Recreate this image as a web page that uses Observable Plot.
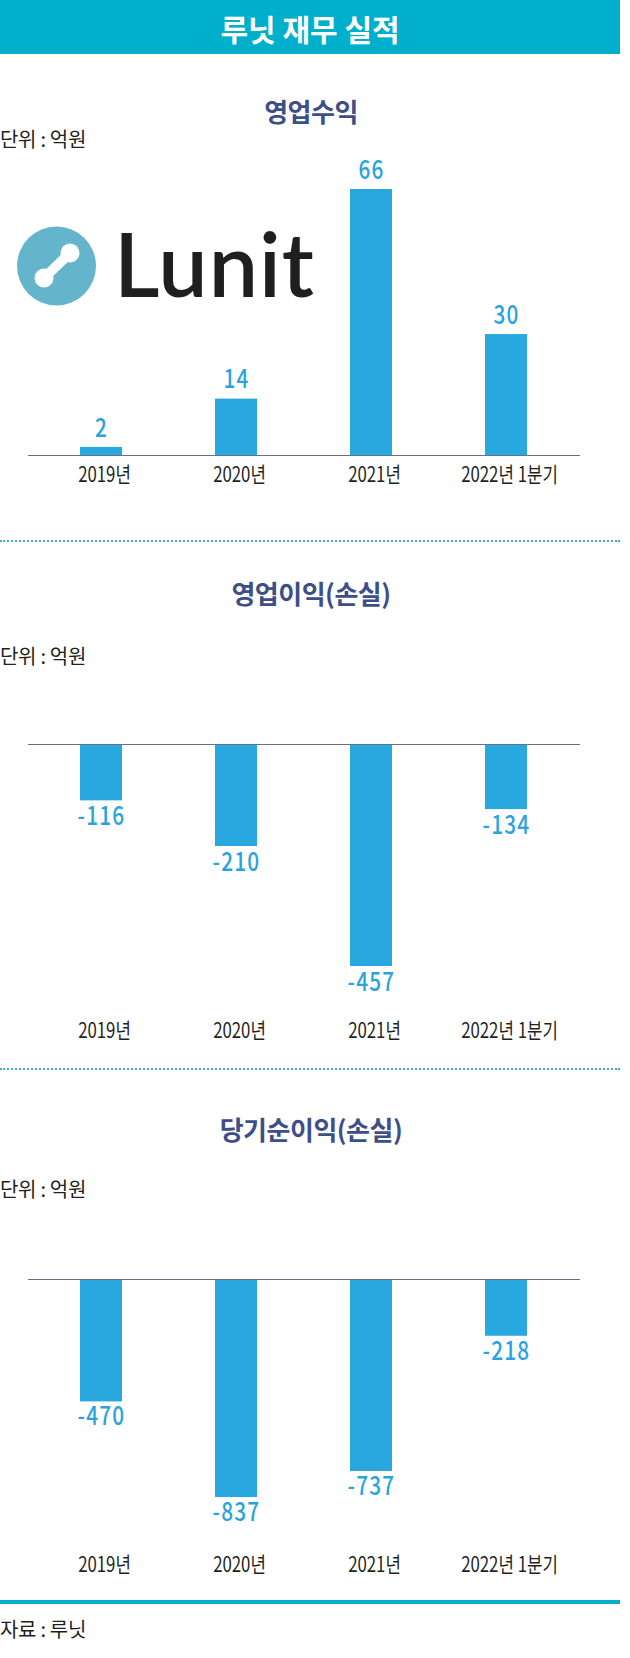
<!DOCTYPE html>
<html>
<head>
<meta charset="utf-8">
<script src="https://cdn.jsdelivr.net/npm/d3@7"></script>
<script src="https://cdn.jsdelivr.net/npm/@observablehq/plot@0.6"></script>
<style>
  html, body { margin: 0; padding: 0; background: #ffffff; }
  body { width: 630px; height: 1658px; position: relative; overflow: hidden;
         font-family: "Noto Sans CJK KR", "Noto Sans", sans-serif; }
  .abs { position: absolute; white-space: pre; }
  .center { transform: translate(-50%, -50%); }
  .header { left: 0; top: 0; width: 620px; height: 54px; background: #00afcb; }
  .title { color: #ffffff; font-weight: 700; font-size: 30px; letter-spacing: 0px; }
  .heading { color: #3e4e87; font-weight: 700; font-size: 26px; letter-spacing: -0.5px; }
  .unit { left: 0; color: #231f20; font-size: 20px; letter-spacing: -0.3px; transform: translateY(-50%); }
  .dots { left: 0; width: 620px; height: 0; border-top: 2px dotted #36b6d1; }
  .solid { left: 0; width: 620px; height: 4px; background: #00afcb; }
  .plotbox { left: 0; width: 630px; }
  .plotbox svg { display: block; }
</style>
</head>
<body>
<div class="abs header"></div>
<div class="abs center title" style="left:310px; top:28px;">루닛 재무 실적</div>

<div class="abs center heading" id="h1" style="left:311px; top:110px;"></div>
<div class="abs unit" style="top:138px;">단위 : 억원</div>

<svg class="abs" style="left:0; top:200px;" width="340" height="120" viewBox="0 200 340 120">
  <circle cx="56.5" cy="266" r="39.5" fill="#64b4cc"></circle>
  <line x1="45" y1="277" x2="69" y2="254" stroke="#ffffff" stroke-width="10" stroke-linecap="round"></line>
  <circle cx="44" cy="278" r="9.5" fill="#ffffff"></circle>
  <circle cx="70" cy="253" r="9.5" fill="#ffffff"></circle>
  <text x="114" y="297" font-family="Lato, Inter, sans-serif" font-weight="600" font-size="88" fill="#1f1f1f" letter-spacing="1">Lunit</text>
</svg>

<div class="abs plotbox" id="p1" style="top:150px;"></div>

<div class="abs dots" style="top:540px;"></div>
<div class="abs center heading" id="h2" style="left:311px; top:592px;"></div>
<div class="abs unit" style="top:655px;">단위 : 억원</div>
<div class="abs plotbox" id="p2" style="top:700px;"></div>

<div class="abs dots" style="top:1068px;"></div>
<div class="abs center heading" id="h3" style="left:311px; top:1128px;"></div>
<div class="abs unit" style="top:1188px;">단위 : 억원</div>
<div class="abs plotbox" id="p3" style="top:1230px;"></div>

<div class="abs solid" style="top:1600px;"></div>
<div class="abs unit" style="top:1628px;">자료 : 루닛</div>

<script>
// ---- data ----
const categories = ["2019년", "2020년", "2021년", "2022년 1분기"];
const revenue = [2, 14, 66, 30];                 // 영업수익
const operatingIncome = [-116, -210, -457, -134]; // 영업이익(손실)
const netIncome = [-470, -837, -737, -218];       // 당기순이익(손실)
const titles = ["영업수익", "영업이익(손실)", "당기순이익(손실)"];

document.getElementById("h1").textContent = titles[0];
document.getElementById("h2").textContent = titles[1];
document.getElementById("h3").textContent = titles[2];

const BAR = "#29a7df";
const LABEL = "#29a3dd";
const AXISLINE = "#6f6b8e";
const FONT = "'Noto Sans CJK KR', 'Noto Sans', sans-serif";

function chart(values, opts) {
  const data = categories.map((c, i) => ({cat: c, value: values[i]}));
  return Plot.plot({
    width: 630,
    height: opts.height,
    marginLeft: 28,
    marginRight: 50,
    marginTop: opts.marginTop,
    marginBottom: opts.marginBottom,
    style: {fontFamily: FONT, fontSize: "20px", color: "#231f20", background: "transparent", overflow: "visible"},
    x: {domain: categories, range: [32, 574], paddingInner: 0.69, paddingOuter: 0.345, axis: null, label: null},
    y: {domain: opts.yDomain, range: opts.yRange, axis: null},
    marks: [
      Plot.barY(data, {x: "cat", y: "value", fill: BAR}),
      Plot.ruleY([0], {stroke: AXISLINE, strokeWidth: 1.2}),
      Plot.text(data, {x: "cat", y: "value", text: d => String(d.value), dy: opts.labelDy,
        fill: LABEL, fontSize: 26, fontWeight: 500, fontFamily: FONT, className: "vlabel"}),
      Plot.axisX({tickSize: 0, tickPadding: 12, fontSize: 21, dx: 3, fill: "#231f20", label: null, className: "xlabel"})
    ]
  });
}

// horizontally condense texts around their own centre (reference uses condensed type)
function condense(svg, selector, s) {
  svg.querySelectorAll(selector).forEach(t => {
    const b = t.getBBox();
    const cx = b.x + b.width / 2;
    const prev = t.getAttribute("transform") || "";
    t.setAttribute("transform", `${prev} translate(${cx},0) scale(${s},1) translate(${-cx},0)`);
  });
}

const specs = [
  ["p1", revenue, {height: 350, marginTop: 20, marginBottom: 45, yDomain: [0, 66], yRange: [305, 39], labelDy: -19}],
  ["p2", operatingIncome, {height: 360, marginTop: 44, marginBottom: 49, yDomain: [0, -457], yRange: [44, 266], labelDy: 16}],
  ["p3", netIncome, {height: 360, marginTop: 49, marginBottom: 45, yDomain: [0, -837], yRange: [49, 267], labelDy: 15}]
];
for (const [id, vals, o] of specs) {
  const svg = chart(vals, o);
  document.getElementById(id).append(svg);
  svg.querySelectorAll(".vlabel text").forEach(t => t.setAttribute("letter-spacing", "1.5"));
  condense(svg, ".vlabel text", 0.8);
  condense(svg, ".xlabel text", 0.8);
}
</script>
</body>
</html>
